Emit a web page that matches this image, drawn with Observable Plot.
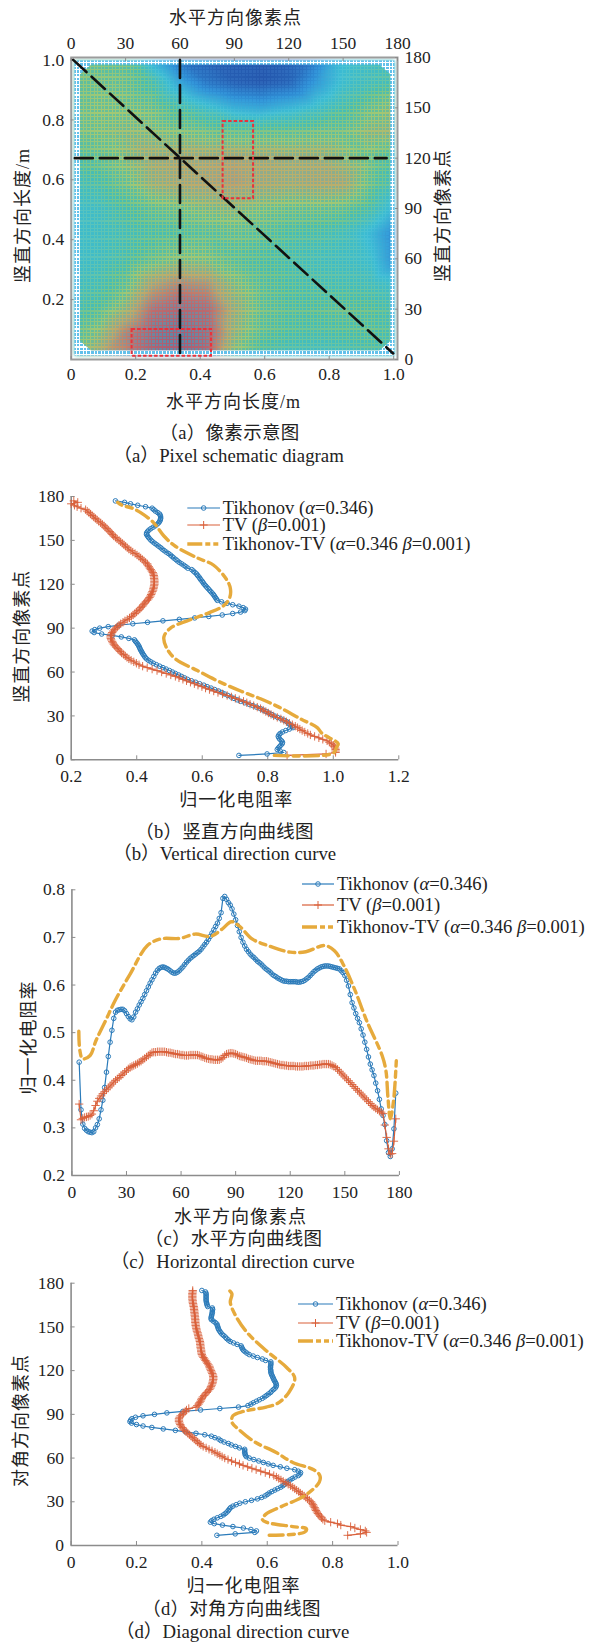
<!DOCTYPE html>
<html><head><meta charset="utf-8">
<script src="https://cdn.jsdelivr.net/npm/d3@7"></script>
<script src="https://cdn.jsdelivr.net/npm/@observablehq/plot@0.6"></script>
<style>
html,body{margin:0;padding:0;background:#fff;width:596px;height:1644px;overflow:hidden}
#page{position:relative;width:596px;height:1644px;font-family:"Liberation Serif","Noto Sans CJK SC",serif;color:#222}
.mesh{-webkit-mask-image:repeating-linear-gradient(90deg,#000 0 1.1px,transparent 1.1px 3.6px),repeating-linear-gradient(0deg,#000 0 1.1px,transparent 1.1px 3.6px);mask-image:repeating-linear-gradient(90deg,#000 0 1.1px,transparent 1.1px 3.6px),repeating-linear-gradient(0deg,#000 0 1.1px,transparent 1.1px 3.6px)}
.fade{opacity:.55}
.soft{filter:blur(2px)}
.legend{position:absolute;font-size:18.6px;line-height:18px;white-space:nowrap;color:#222}
.legend svg{position:absolute;left:0;top:0;overflow:visible}
.cn text{letter-spacing:1px}
.cn2 text{letter-spacing:.3px}
</style></head><body><div id="page"></div>
<script>
// ---------- panel (a) field ----------
const fieldCols=[0,15,30,45,60,75,90,105,120,135,150,165,180];
const fieldRows=[180,165,150,135,120,105,90,75,60,45,30,15,0];
const fieldLevels=[
[.5,.5,.48,.22,.05,.02,0,0,.02,.1,.3,.35,.38],
[.52,.53,.52,.42,.22,.08,.02,0,.03,.18,.32,.38,.42],
[.52,.55,.55,.52,.42,.33,.25,.22,.27,.33,.42,.52,.6],
[.52,.55,.58,.58,.55,.52,.5,.5,.5,.52,.52,.6,.62],
[.45,.5,.58,.66,.68,.68,.7,.68,.66,.66,.6,.52,.45],
[.38,.42,.52,.64,.68,.7,.72,.68,.66,.68,.68,.5,.38],
[.33,.36,.44,.5,.54,.58,.6,.55,.52,.52,.5,.42,.25],
[.33,.36,.4,.44,.46,.48,.5,.48,.44,.42,.38,.28,.12],
[.33,.36,.42,.5,.56,.55,.48,.45,.42,.38,.36,.32,.14],
[.36,.4,.5,.7,.78,.75,.58,.48,.44,.42,.4,.38,.32],
[.4,.46,.62,.85,.92,.88,.65,.5,.46,.46,.48,.46,.4],
[.45,.58,.8,.95,1,.92,.62,.48,.44,.42,.44,.46,.42],
[.45,.68,.78,.95,1,.92,.55,.4,.36,.34,.36,.4,.38]];
const levelStops=[0,.15,.3,.45,.55,.7,.85,1];
const cellColors=["#2d62b6","#3396dc","#3bbcd4","#48bdb4","#68bf98","#97a88a","#94828f","#5b88a8"];
const meshColors=["#1f50a8","#2b86d0","#55c8da","#9ccc6c","#d0d058","#e4a850","#e65c50","#e83b4a"];
const ringOuter=[[1.8,2.4],[178.3,2.4],[178.3,178.2],[1.8,178.2],[1.8,2.4]];
const ringInner=[[4.8,11],[4.8,170],[11,175.8],[170,175.8],[176.1,170],[176.1,11],[170,5.4],[11,5.4],[4.8,11]];
const topTicks=[0,30,60,90,120,150,180];
const rightTicks=[0,30,60,90,120,150,180];
const bottomMetres=[0,.2,.4,.6,.8,1];
const bottomLabels=["0","0.2","0.4","0.6","0.8","1.0"];
const leftMetres=[.2,.4,.6,.8,1];
const leftLabels=["0.2","0.4","0.6","0.8","1.0"];
const xUnitsPerMetre=177.9, yUnitsPerMetre=178.5;
const crossLines=[[[60,178.5],[60,3]],[[2,120],[174,120]],[[1.1,178.6],[177.6,3.6]]];
const redBoxes=[[33.6,2,77.4,17.9],[83.8,95.8,100.6,141.8]];

// ---------- curve colours ----------
const blue="#2b7bba", red="#d9603a", gold="#e6aa3c", axisGray="#8c8c8c", ink="#222";

// ---------- panel (b) vertical ----------
const vertStart=3;
const vertTik=[.712,.798,.849,.838,.829,.832,.836,.84,.844,.845,.842,.837,.834,.832,.834,.838,.845,.855,.866,.877,.875,.868,.863,.858,.85,.84,.83,.82,.811,.803,.795,.786,.777,.766,.755,.743,.73,.717,.707,.697,.688,.678,.668,.66,.65,.638,.627,.615,.605,.592,.58,.567,.555,.546,.537,.528,.518,.509,.5,.49,.48,.47,.46,.451,.443,.436,.43,.426,.423,.42,.417,.415,.412,.41,.408,.406,.403,.4,.396,.393,.376,.353,.325,.293,.27,.264,.272,.287,.313,.345,.388,.433,.48,.53,.577,.62,.661,.693,.717,.73,.732,.725,.712,.693,.676,.659,.646,.643,.64,.637,.634,.63,.626,.622,.618,.614,.61,.606,.603,.6,.596,.593,.59,.586,.583,.578,.573,.568,.556,.55,.544,.537,.53,.524,.519,.513,.508,.503,.497,.49,.484,.478,.473,.467,.461,.455,.449,.444,.44,.436,.433,.43,.43,.433,.437,.443,.45,.457,.462,.467,.47,.472,.473,.473,.472,.47,.464,.457,.452,.447,.427,.403,.381,.363,.335];
const vertTV=[.859,.978,1.007,1.007,1.007,1.006,1.003,1,.994,.988,.981,.968,.956,.943,.93,.922,.913,.905,.898,.891,.884,.875,.866,.857,.849,.84,.829,.818,.81,.802,.794,.786,.778,.768,.757,.746,.736,.726,.713,.701,.689,.676,.662,.648,.635,.622,.61,.599,.587,.576,.564,.552,.541,.529,.518,.504,.49,.476,.462,.447,.432,.418,.407,.399,.391,.383,.376,.37,.365,.36,.354,.35,.346,.342,.337,.333,.33,.327,.325,.322,.321,.32,.321,.323,.325,.328,.332,.336,.341,.346,.351,.358,.364,.371,.378,.384,.389,.394,.399,.404,.409,.413,.417,.42,.424,.428,.432,.436,.439,.442,.444,.446,.448,.45,.451,.452,.453,.454,.454,.454,.454,.453,.453,.452,.451,.449,.446,.443,.44,.437,.434,.432,.427,.422,.417,.412,.407,.401,.395,.388,.382,.376,.371,.366,.361,.356,.351,.346,.34,.335,.33,.326,.322,.318,.313,.309,.304,.3,.295,.29,.284,.279,.274,.269,.264,.259,.254,.249,.244,.23,.218,.21,.2,.22,.208];
const vertMixPos=[3,4.5,8.6,11,18,22,28,36,41.7,47,54,61,69,77,84,90,95,100,105.5,111,117,122.6,133,138,146,153,162,169,172,174,176];
const vertMixVal=[.82,1,1.01,1.015,.966,.951,.9,.834,.778,.717,.646,.585,.518,.49,.483,.503,.554,.615,.666,.684,.686,.676,.635,.585,.518,.483,.452,.412,.386,.355,.342];

// ---------- panel (c) horizontal ----------
const horizStart=4;
const horizTik=[.438,.338,.308,.299,.295,.292,.291,.29,.292,.3,.307,.319,.338,.358,.385,.417,.45,.48,.505,.53,.543,.547,.548,.549,.549,.546,.54,.534,.529,.527,.533,.543,.55,.558,.565,.572,.58,.588,.596,.604,.611,.618,.625,.631,.635,.637,.638,.637,.635,.633,.63,.627,.625,.625,.627,.63,.634,.638,.643,.648,.652,.656,.659,.662,.665,.668,.671,.675,.68,.685,.69,.696,.702,.709,.716,.723,.73,.74,.752,.782,.786,.78,.773,.768,.76,.749,.737,.725,.712,.7,.69,.682,.675,.67,.665,.661,.658,.654,.65,.647,.644,.64,.636,.633,.63,.627,.623,.62,.618,.615,.613,.611,.609,.608,.608,.607,.607,.607,.607,.607,.606,.606,.607,.608,.61,.613,.616,.62,.624,.628,.631,.634,.636,.638,.639,.64,.64,.64,.639,.638,.637,.636,.635,.634,.63,.626,.62,.61,.598,.58,.563,.552,.54,.53,.521,.508,.495,.48,.465,.449,.434,.422,.41,.394,.378,.36,.34,.326,.307,.273,.248,.24,.256,.298,.373];
const horizTV=[.35,.317,.32,.322,.323,.324,.326,.329,.336,.347,.356,.362,.367,.372,.376,.38,.384,.388,.392,.396,.4,.403,.406,.41,.413,.417,.42,.424,.427,.429,.431,.433,.435,.438,.44,.443,.446,.449,.452,.455,.458,.459,.459,.46,.46,.46,.46,.46,.459,.458,.458,.457,.456,.455,.455,.454,.453,.453,.452,.452,.452,.453,.453,.453,.453,.453,.452,.45,.449,.447,.446,.445,.444,.444,.443,.443,.443,.443,.445,.448,.452,.455,.456,.457,.457,.456,.455,.453,.451,.45,.449,.448,.447,.445,.444,.443,.442,.441,.441,.441,.441,.44,.44,.44,.439,.438,.437,.436,.435,.434,.433,.432,.432,.431,.431,.43,.43,.43,.43,.429,.429,.429,.429,.429,.43,.43,.43,.431,.431,.431,.432,.432,.433,.433,.434,.434,.434,.434,.433,.431,.429,.427,.423,.419,.415,.411,.407,.403,.399,.395,.391,.387,.383,.379,.375,.371,.367,.363,.359,.355,.351,.347,.344,.341,.338,.335,.333,.33,.306,.28,.256,.245,.246,.272,.319];
const horizMixPos=[3.8,4.4,5.9,10,13.2,18.5,23.7,32,41.5,49,59.4,67.8,76,82.4,87.7,92,99,107.6,120,128.6,139,144.3,149.6,156,162,170.5,172.6,173.7,175,176.8,178.3];
const horizMixVal=[.503,.462,.445,.452,.483,.525,.567,.623,.683,.697,.698,.707,.702,.717,.733,.724,.697,.683,.669,.67,.683,.672,.64,.585,.525,.452,.42,.364,.319,.357,.441];

// ---------- panel (d) diagonal ----------
const diagStart=7;
const diagTik=[.446,.502,.562,.567,.55,.527,.495,.463,.438,.426,.43,.437,.447,.458,.466,.472,.477,.481,.484,.488,.495,.505,.516,.533,.552,.57,.583,.593,.6,.606,.614,.623,.632,.641,.648,.653,.658,.663,.67,.677,.685,.695,.7,.702,.695,.684,.66,.64,.618,.603,.588,.574,.559,.545,.536,.533,.532,.531,.531,.531,.515,.503,.49,.481,.468,.458,.452,.44,.429,.409,.382,.35,.319,.282,.247,.22,.2,.185,.18,.182,.186,.197,.22,.255,.293,.342,.396,.455,.512,.541,.55,.558,.567,.576,.585,.592,.598,.604,.61,.614,.619,.624,.627,.628,.627,.625,.622,.62,.618,.616,.614,.612,.611,.611,.61,.61,.61,.611,.611,.611,.595,.585,.57,.557,.545,.538,.532,.527,.524,.522,.52,.508,.497,.487,.481,.476,.472,.467,.462,.458,.455,.452,.45,.449,.447,.446,.441,.435,.429,.428,.429,.43,.431,.432,.432,.433,.432,.418,.416,.415,.414,.413,.413,.413,.413,.413,.413,.411,.4];
const diagTV=[.846,.885,.904,.9,.885,.868,.855,.825,.815,.794,.776,.77,.766,.762,.758,.755,.752,.749,.747,.745,.742,.74,.737,.734,.729,.723,.718,.713,.707,.701,.696,.69,.684,.678,.671,.664,.657,.649,.642,.635,.628,.62,.607,.594,.58,.566,.553,.54,.526,.515,.503,.491,.48,.47,.462,.455,.447,.44,.431,.422,.413,.404,.397,.392,.387,.382,.377,.372,.367,.362,.357,.352,.347,.343,.34,.336,.334,.332,.33,.33,.33,.332,.335,.34,.344,.349,.353,.36,.382,.386,.39,.393,.396,.398,.4,.403,.407,.411,.415,.419,.423,.426,.428,.43,.432,.433,.434,.435,.435,.435,.434,.432,.43,.428,.426,.424,.423,.42,.417,.414,.411,.408,.405,.402,.4,.399,.398,.398,.397,.396,.396,.395,.395,.394,.393,.391,.39,.389,.388,.387,.385,.384,.383,.382,.381,.381,.38,.38,.38,.379,.379,.378,.378,.377,.377,.376,.376,.375,.374,.373,.372,.372,.371,.371,.371,.371,.371,.372,.372];
const diagMixPos=[7,9,11.4,13,16,18,21.7,26.7,34,43.4,48,52,57,64,71,79,84.6,89,92,95,97.6,105,115,122,133.7,146,156.6,166.9,172.6,175];
const diagMixVal=[.606,.713,.72,.678,.597,.585,.597,.643,.713,.759,.761,.742,.678,.626,.562,.516,.492,.495,.527,.597,.632,.666,.684,.66,.597,.539,.506,.487,.492,.484];

// ---------- tick values ----------
const posTicks=[0,30,60,90,120,150,180];
const bValueTicks=[.2,.4,.6,.8,1,1.2];
const cValueTicks=[.2,.3,.4,.5,.6,.7,.8];
const dValueTicks=[0,.2,.4,.6,.8,1];

const page=document.getElementById("page");
const FONT='"Liberation Serif","Noto Sans CJK SC",serif';
const W=596, TICK=17.5;
function place(el,top){el.style.top=top+"px";el.style.left="0";el.style.position="absolute";page.appendChild(el);return el;}
// text placed by page position; the frame origin is subtracted
const txt=(s,x,y,box,o={})=>Plot.text([s],{text:d=>d,frameAnchor:"top-left",dx:x-box.left,dy:y-box.ptop,textAnchor:"middle",lineAnchor:"middle",fontSize:o.size||18,fill:ink,rotate:o.rotate||0,className:o.cn||undefined});
const seriesOf=(start,vals)=>vals.map((v,i)=>({p:start+i,v}));
const knots=(ps,vs)=>ps.map((p,i)=>({p,v:vs[i]}));

// ---------- (a) ----------
const A={top:0,height:470,left:70.7,right:397,ptop:57,pbottom:359};
function frameOpts(extra){return Object.assign({width:W,height:A.height,marginLeft:A.left,marginRight:W-A.right,marginTop:A.ptop-A.top,marginBottom:A.top+A.height-A.pbottom,
  x:{domain:[0,180],axis:null},y:{domain:[0,180],axis:null},style:{background:"transparent",fontFamily:FONT,overflow:"visible"}},extra);}
const samples=fieldRows.flatMap((r,j)=>fieldCols.map((c,i)=>({x:c,y:r,t:fieldLevels[j][i]})));
function fieldLayer(colors,cls){
  const p=Plot.plot(frameOpts({color:{type:"linear",domain:levelStops,range:colors,clamp:true},marks:[
    Plot.raster(samples,{x:"x",y:"y",fill:"t",interpolate:"barycentric",x1:1.8,x2:178.3,y1:2.4,y2:178.2,pixelSize:1,imageRendering:"auto"})]}));
  p.setAttribute("class",(p.getAttribute("class")||"")+" "+cls);
  return place(p,A.top);
}
function ringLayer(color,cls){
  const ringPts=[...ringOuter,...ringInner,ringOuter[0]];
  const p=Plot.plot(frameOpts({marks:[Plot.line(ringPts,{x:d=>d[0],y:d=>d[1],fill:color,stroke:"none",fillRule:"evenodd"})]}));
  p.setAttribute("class",(p.getAttribute("class")||"")+" "+cls);
  return place(p,A.top);
}
fieldLayer(cellColors,"soft");
fieldLayer(meshColors,"mesh fade");
ringLayer("#62c0ea","");
ringLayer("#ffffff","mesh");
const aTop=Plot.plot(frameOpts({marks:[
  Plot.frame({stroke:"#9c9c9c",strokeWidth:2}),
  Plot.axisX({anchor:"bottom",ticks:bottomMetres.map(m=>m*xUnitsPerMetre),tickFormat:(d,i)=>bottomLabels[i],tickSize:-3,tickPadding:11,fontSize:TICK,stroke:axisGray,fill:ink,label:null}),
  Plot.axisX({anchor:"top",ticks:topTicks,tickFormat:d=>String(d),tickSize:-3,tickPadding:12,fontSize:TICK,stroke:axisGray,fill:ink,label:null}),
  Plot.axisY({anchor:"left",ticks:leftMetres.map(m=>m*yUnitsPerMetre),tickFormat:(d,i)=>leftLabels[i],tickSize:-3,tickPadding:10,fontSize:TICK,stroke:axisGray,fill:ink,label:null}),
  Plot.axisY({anchor:"right",ticks:rightTicks,tickFormat:d=>String(d),tickSize:-3,tickPadding:10,fontSize:TICK,stroke:axisGray,fill:ink,label:null}),
  ...crossLines.map(l=>Plot.line(l,{x:d=>d[0],y:d=>d[1],stroke:"#111",strokeWidth:2.6,strokeDasharray:"18,7"})),
  ...redBoxes.map(b=>Plot.rect([b],{x1:d=>d[0],y1:d=>d[1],x2:d=>d[2],y2:d=>d[3],stroke:"#e8323c",strokeWidth:2,strokeDasharray:"3.5,2",fill:"none"})),
  txt("水平方向像素点",235,18,A,{cn:"cn"}),
  txt("水平方向长度/m",233,402,A,{cn:"cn"}),
  txt("竖直方向长度/m",23,215,A,{rotate:-90,cn:"cn"}),
  txt("竖直方向像素点",443,215,A,{rotate:-90,cn:"cn"}),
  txt("（a）像素示意图",229,433,A,{size:18.5,cn:"cn2"}),
  txt("（a）Pixel schematic diagram",228,455,A,{size:18.8}),
]}));
place(aTop,A.top);

// ---------- curve panels ----------
function curves(P){
  const tik=seriesOf(P.start,P.tik), tv=seriesOf(P.start,P.tv), mix=knots(P.mixPos,P.mixVal);
  const ch=P.horizontal?{x:"p",y:"v"}:{x:"v",y:"p"};
  const axX=P.horizontal?posTicks:P.valueTicks, axY=P.horizontal?P.valueTicks:posTicks;
  const xf=P.horizontal?(d=>String(d)):(d=>d===0?"0":d.toFixed(1));
  const yf=P.horizontal?(d=>d.toFixed(1)):(d=>String(d));
  const p=Plot.plot({width:W,height:P.height,marginLeft:P.left,marginRight:W-P.right,marginTop:P.ptop-P.top,marginBottom:P.top+P.height-P.pbottom,
    x:{domain:P.xDomain},y:{domain:P.yDomain},style:{background:"transparent",fontFamily:FONT,overflow:"visible"},
    marks:[
      Plot.axisX({ticks:axX,tickFormat:xf,tickSize:-4,tickPadding:14,fontSize:TICK,stroke:axisGray,fill:ink,label:null}),
      Plot.axisY({ticks:axY,tickFormat:yf,tickSize:-4,tickPadding:11,fontSize:TICK,stroke:axisGray,fill:ink,label:null}),
      Plot.ruleX([P.xDomain[0]],{stroke:axisGray,strokeWidth:1.6}),
      Plot.ruleY([P.yDomain[0]],{stroke:axisGray,strokeWidth:1.6}),
      Plot.line(tik,{...ch,stroke:blue,strokeWidth:1.2}),
      Plot.dot(tik,{...ch,stroke:blue,r:2.3,strokeWidth:1,fill:"none"}),
      Plot.line(tv,{...ch,stroke:red,strokeWidth:1.2}),
      Plot.dot(tv,{...ch,stroke:red,symbol:"plus",r:2.8,strokeWidth:.9,fill:"none"}),
      Plot.line(mix,{...ch,stroke:gold,strokeWidth:3.4,strokeDasharray:"14,5,6,5",curve:"catmull-rom"}),
      ...P.labels.map(l=>txt(l[0],l[1],l[2],P,l[3]))
    ]});
  place(p,P.top);
  legend(P.legend);
}
function legend(L){
  const rows=[['Tikhonov (<i>α</i>=0.346)','tik'],['TV (<i>β</i>=0.001)','tv'],['Tikhonov-TV (<i>α</i>=0.346 <i>β</i>=0.001)','mix']];
  rows.forEach((r,i)=>{
    const d=document.createElement("div");d.className="legend";
    d.style.left=L.tx+"px";d.style.top=(L.ys[i]-9)+"px";d.innerHTML=r[0];
    const sw=L.lx-L.tx, len=L.tx-L.lx-3, m=sw+len/2;
    const g=r[1]==="mix"?`<line x1="${sw}" x2="${sw+len}" y1="9" y2="9" stroke="${gold}" stroke-width="3.4" stroke-dasharray="15,3,5,3,5,3"/>`
      :`<line x1="${sw}" x2="${sw+len}" y1="9" y2="9" stroke="${r[1]==="tik"?blue:red}" stroke-width="1.2"/>`+
       (r[1]==="tik"?`<circle cx="${m}" cy="9" r="2.3" fill="none" stroke="${blue}"/>`:`<path d="M${m-4} 9H${m+4}M${m} 5V13" stroke="${red}"/>`);
    d.innerHTML+=`<svg width="1" height="1">${g}</svg>`;
    page.appendChild(d);
  });
}
curves({top:470,height:400,left:70.7,right:398.3,ptop:496,pbottom:759.3,start:vertStart,tik:vertTik,tv:vertTV,mixPos:vertMixPos,mixVal:vertMixVal,
  valueTicks:bValueTicks,xDomain:[.2,1.2],yDomain:[0,180],
  labels:[["归一化电阻率",235.7,800,{cn:"cn"}],["竖直方向像素点",22,635.7,{rotate:-90,cn:"cn"}],["（b）竖直方向曲线图",224,832,{size:18.5,cn:"cn2"}],["（b）Vertical direction curve",224,853,{size:18.8}]],
  legend:{lx:187,tx:222.7,ys:[507.7,525,544]}});
curves({top:870,height:395,horizontal:true,left:71.4,right:398.9,ptop:889.3,pbottom:1175,start:horizStart,tik:horizTik,tv:horizTV,mixPos:horizMixPos,mixVal:horizMixVal,
  valueTicks:cValueTicks,xDomain:[0,180],yDomain:[.2,.8],
  labels:[["水平方向像素点",240,1217,{cn:"cn"}],["归一化电阻率",28.6,1037,{rotate:-90,cn:"cn"}],["（c）水平方向曲线图",233,1239,{size:18.5,cn:"cn2"}],["（c）Horizontal direction curve",232,1261,{size:18.8}]],
  legend:{lx:302,tx:337,ys:[884,905,927]}});
curves({top:1265,height:379,left:70.6,right:397.5,ptop:1282.7,pbottom:1545,start:diagStart,tik:diagTik,tv:diagTV,mixPos:diagMixPos,mixVal:diagMixVal,
  valueTicks:dValueTicks,xDomain:[0,1],yDomain:[0,180],
  labels:[["归一化电阻率",243,1586,{cn:"cn"}],["对角方向像素点",21,1420,{rotate:-90,cn:"cn"}],["（d）对角方向曲线图",231,1609,{size:18.5,cn:"cn2"}],["（d）Diagonal direction curve",232,1631,{size:18.8}]],
  legend:{lx:298,tx:336,ys:[1304,1323,1341]}});
</script></body></html>
